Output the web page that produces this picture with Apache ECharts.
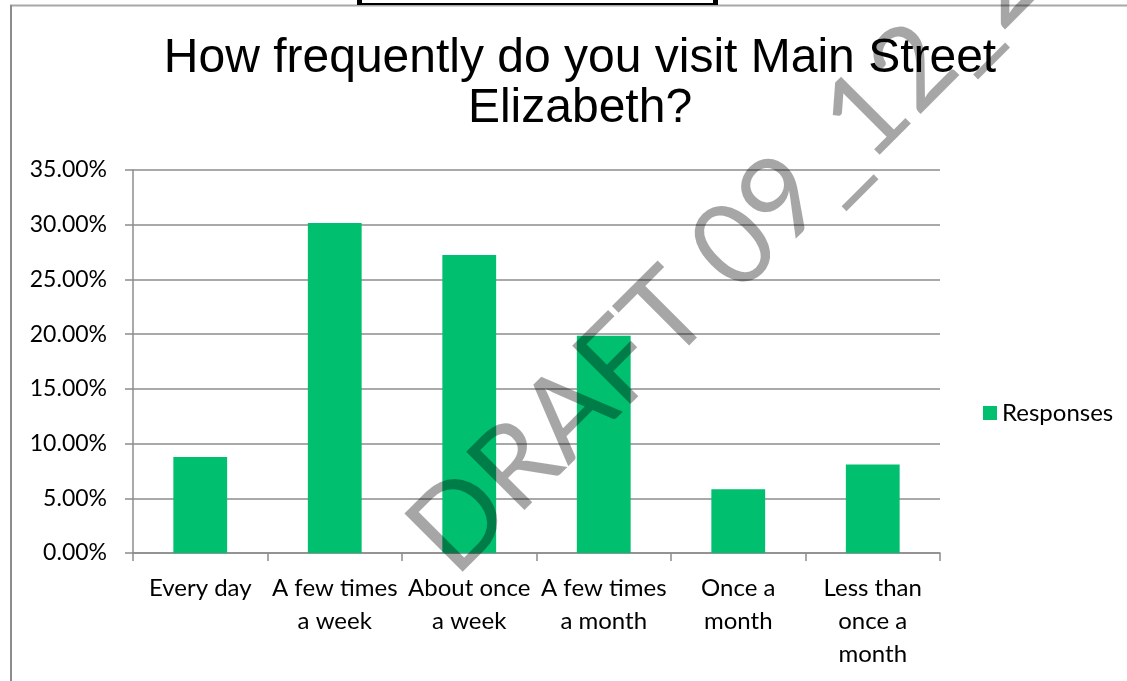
<!DOCTYPE html>
<html>
<head>
<meta charset="utf-8">
<script src="https://cdn.jsdelivr.net/npm/echarts@6/dist/echarts.min.js"></script>
<style>
html,body{margin:0;padding:0;background:#fff;}
#chart{width:1127px;height:681px;}
</style>
</head>
<body>
<div id="chart"></div>
<script>
// ---- data ----
const titleText = 'How frequently do you visit Main Street\nElizabeth?';
const categories = ['Every day', 'A few times\na week', 'About once\na week', 'A few times\na month', 'Once a\nmonth', 'Less than\nonce a\nmonth'];
const seriesName = 'Responses';
const responses = [8.77, 30.16, 27.23, 19.86, 5.82, 8.09]; // percent
const yTicks = { min: 0, max: 35, interval: 5 };
const watermarkText = 'DRAFT 09_12_2019';

const chart = echarts.init(document.getElementById('chart'), null, { renderer: 'canvas' });
const labelFont = 'Lato, "Open Sans", sans-serif';
const gridColor = '#8c8c8c';

const option = {
  backgroundColor: '#ffffff',
  animation: false,
  title: {
    text: titleText,
    left: 580,
    textAlign: 'center',
    top: 34,
    padding: 0,
    textStyle: {
      fontFamily: '"Liberation Sans", Arial, sans-serif',
      fontSize: 48,
      fontWeight: 'normal',
      lineHeight: 50,
      color: '#000'
    }
  },
  legend: {
    data: [seriesName],
    left: 983,
    top: 401,
    padding: 0,
    icon: 'rect',
    itemWidth: 14,
    itemHeight: 14,
    textStyle: { fontFamily: labelFont, fontSize: 24, color: '#000' }
  },
  grid: { left: 133, right: 187, top: 170, bottom: 128, containLabel: false },
  xAxis: {
    type: 'category',
    data: categories,
    axisLine: { lineStyle: { color: gridColor, width: 1.5 } },
    axisTick: { show: true, length: 8, alignWithLabel: false, lineStyle: { color: gridColor, width: 1.5 } },
    axisLabel: {
      interval: 0,
      margin: 19,
      fontFamily: labelFont,
      fontSize: 24,
      lineHeight: 33,
      color: '#000'
    }
  },
  yAxis: {
    type: 'value',
    min: yTicks.min,
    max: yTicks.max,
    interval: yTicks.interval,
    axisLine: { show: true, lineStyle: { color: gridColor, width: 1.5 } },
    axisTick: { show: true, length: 8, lineStyle: { color: gridColor, width: 1.5 } },
    splitLine: { show: true, lineStyle: { color: gridColor, width: 1.5 } },
    axisLabel: {
      margin: 26,
      fontFamily: labelFont,
      fontSize: 23,
      color: '#000',
      formatter: v => v.toFixed(2) + '%'
    }
  },
  series: [{
    name: seriesName,
    type: 'bar',
    data: responses,
    barCategoryGap: '60%',
    itemStyle: { color: '#00bf6f' }
  }],
  graphic: [
    // page frame pieces
    { type: 'line', z: 50, shape: { x1: 10, y1: 5.5, x2: 1127, y2: 5.5 }, style: { stroke: '#a8a8a8', lineWidth: 2 } },
    { type: 'line', z: 50, shape: { x1: 11, y1: 5, x2: 11, y2: 681 }, style: { stroke: '#8c8c8c', lineWidth: 2 } },
    { type: 'rect', z: 51, shape: { x: 357, y: 0, width: 5, height: 5 }, style: { fill: '#000' } },
    { type: 'rect', z: 51, shape: { x: 713, y: 0, width: 5, height: 5 }, style: { fill: '#000' } },
    { type: 'rect', z: 51, shape: { x: 357, y: 3, width: 361, height: 2 }, style: { fill: '#000' } },
    // watermark
    {
      type: 'text', z: 100,
      x: 429, y: 553,
      rotation: Math.PI / 4,
      style: {
        text: watermarkText,
        fill: 'rgba(0,0,0,0.35)',
        fontFamily: 'Lato, "Open Sans", sans-serif',
        fontSize: 115,
        align: 'left',
        verticalAlign: 'middle'
      },
      originX: 0, originY: 0
    }
  ]
};
chart.setOption(option);
</script>
</body>
</html>
